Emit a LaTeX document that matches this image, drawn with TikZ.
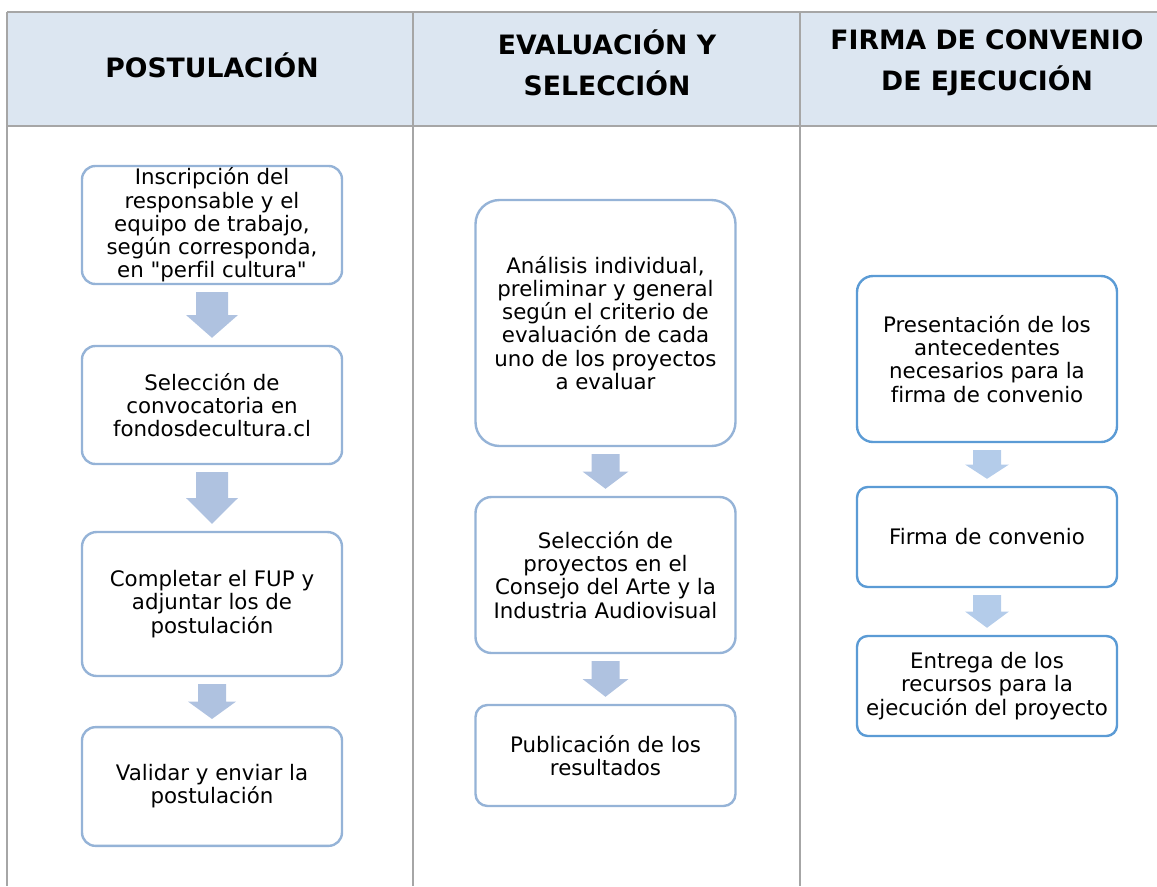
\documentclass[tikz,border=0pt]{standalone}
\usepackage{fontspec}
\setmainfont{DejaVu Sans}
\newfontfamily\plainfont{DejaVu Sans}[Ligatures=NoCommon]
\usetikzlibrary{calc}
\definecolor{hdrfill}{HTML}{DCE6F1}
\definecolor{gridgray}{HTML}{A6A6A6}
\definecolor{boxblue}{HTML}{95B3D7}
\definecolor{boxbluedark}{HTML}{5B9BD5}
\definecolor{arrowblue}{HTML}{AFC2E0}
\definecolor{arrowbluelight}{HTML}{B4CCEA}

\begin{document}
\begin{tikzpicture}[x=0.75pt, y=-0.75pt,
	every node/.style={align=center, inner sep=0pt, font=\plainfont\fontsize{16}{17.4}\selectfont},
	grid/.style={draw=gridgray, line width=0.9pt},
	header/.style={font=\plainfont\bfseries\fontsize{20}{30.5}\selectfont},
	stepbox/.style={draw=boxblue, fill=white, line width=1.8pt, minimum width=195pt},
	stepboxdark/.style={stepbox, draw=boxbluedark}]
	\useasboundingbox (0,0) rectangle (1157,886);
	% table
	\fill[hdrfill] (7,12) rectangle (1157,126);
	\draw[grid] (7,12) -- (1157,12);
	\draw[grid] (7,126) -- (1157,126);
	\foreach \x in {7, 413, 800}
	{
		\draw[grid] (\x,12) -- (\x,886);
	}
	\node[header] (h1) at (212,65) {POSTULACIÓN};
	\node[header] (h2) at (607,63) {EVALUACIÓN Y\\SELECCIÓN};
	\node[header] (h3) at (987,63) {FIRMA DE CONVENIO\\DE EJECUCIÓN};
	
	% postulacion
	\node[stepbox, minimum height=88.5pt, rounded corners=10pt] (p1) at (212,225) {Inscripción del\\responsable y el\\equipo de trabajo,\\según corresponda,\\en "perfil cultura"};
	\node[stepbox, minimum height=88.5pt, rounded corners=10pt] (p2) at (212,405) {Selección de\\convocatoria en\\fondosdecultura.cl};
	\node[stepbox, minimum height=108pt, rounded corners=11pt] (p3) at (212,604) {Completar el FUP y\\adjuntar los de\\postulación};
	\node[stepbox, minimum height=89pt, rounded corners=10pt] (p4) at (212,786.5) {Validar y enviar la\\postulación};
	
	% evaluacion
	\node[stepbox, minimum height=184.5pt, rounded corners=18pt] (e1) at (605.5,323) {Análisis individual,\\preliminar y general\\según el criterio de\\evaluación de cada\\uno de los proyectos\\a evaluar};
	\node[stepbox, minimum height=117pt, rounded corners=12pt] (e2) at (605.5,575) {Selección de\\proyectos en el\\Consejo del Arte y la\\Industria Audiovisual};
	\node[stepbox, minimum height=75.75pt, rounded corners=9pt] (e3) at (605.5,755.5) {Publicación de los\\resultados};
	
	% firma
	\node[stepboxdark, minimum height=124.5pt, rounded corners=12pt] (f1) at (987,359) {Presentación de los\\antecedentes\\necesarios para la\\firma de convenio};
	\node[stepboxdark, minimum height=75pt, rounded corners=8pt] (f2) at (987,537) {Firma de convenio};
	\node[stepboxdark, minimum height=75pt, rounded corners=8pt] (f3) at (987,686) {Entrega de los\\recursos para la\\ejecución del proyecto};
	
	% block arrows
	\foreach \a/\b/\s/\h/\c in {p1/p2/16/26/arrowblue, p2/p3/16/26/arrowblue, p3/p4/14/24/arrowblue, e1/e2/14/23/arrowblue, e2/e3/14/23/arrowblue, f1/f2/14/22/arrowbluelight, f2/f3/14/22/arrowbluelight}
	{
		\path ($(\a.south)+(0,7)$) coordinate (t) ($(\b.north)+(0,-7)$) coordinate (e) ($(t)!0.5!(e)$) coordinate (m);
		\fill[\c] ($(t)+(-\s,0)$) -- ($(t)+(\s,0)$) -- ($(m)+(\s,0)$) -- ($(m)+(\h,0)$) -- (e) -- ($(m)+(-\h,0)$) -- ($(m)+(-\s,0)$) -- cycle;
	}
\end{tikzpicture}
\end{document}
